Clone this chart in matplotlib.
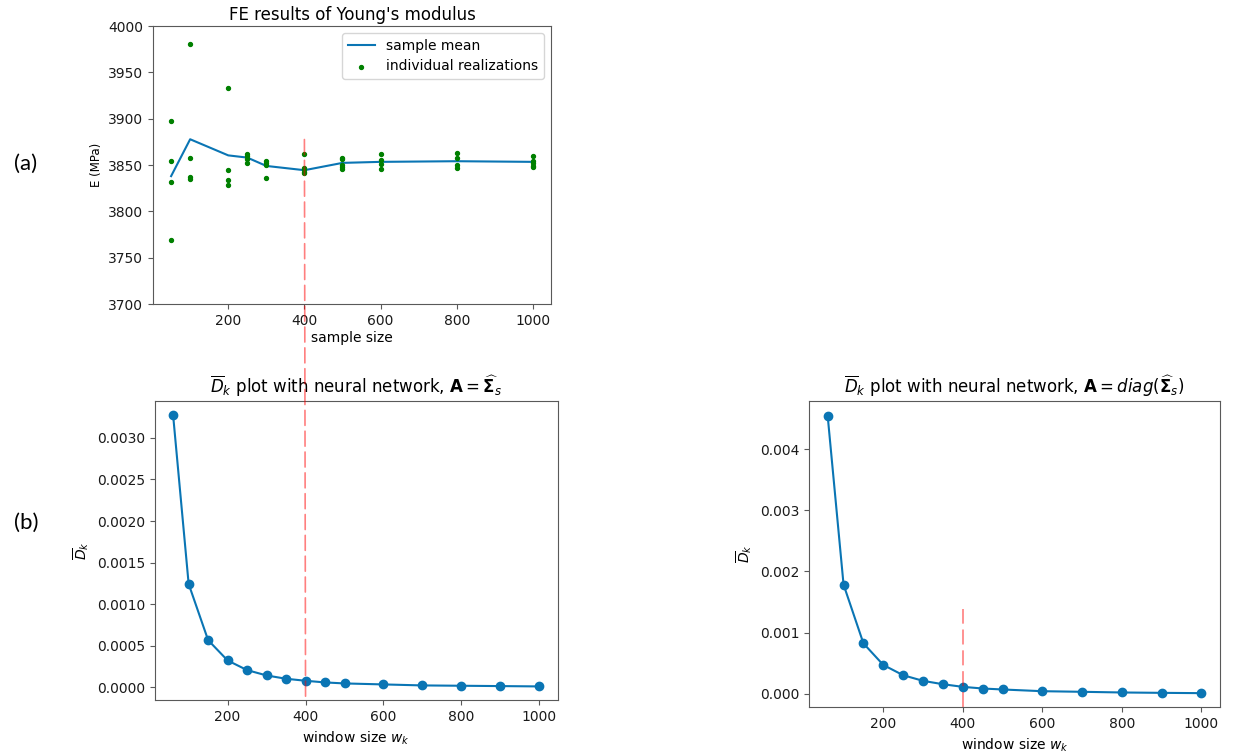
import matplotlib
matplotlib.use("Agg")
import matplotlib.pyplot as plt
from matplotlib.patches import ConnectionPatch

# (a) FE results
sample_sizes = [50, 100, 200, 250, 300, 400, 500, 600, 800, 1000]
sample_mean = [3838, 3877.8, 3860.4, 3858, 3849, 3844.4, 3852.3, 3853.4, 3854.1, 3853.4]
realizations = {
    50: [3897, 3854.5, 3832, 3769],
    100: [3980.6, 3858, 3837.5, 3835],
    200: [3933.5, 3844.8, 3833.3, 3828.6],
    250: [3861.7, 3859.9, 3856.3, 3852],
    300: [3854, 3852.7, 3850.5, 3836.5],
    400: [3862, 3847.3, 3846, 3842, 3841],
    500: [3858, 3856.6, 3850, 3848, 3846],
    600: [3861.7, 3855.2, 3851, 3846],
    800: [3863, 3858, 3849.5, 3847.3],
    1000: [3860, 3854, 3852, 3849, 3848],
}
dashed_top = 3877.5

# (b) D_k curves
window_sizes = [60, 100, 150, 200, 250, 300, 350, 400, 450, 500, 600, 700, 800, 900, 1000]
dk_full = [0.00328, 0.001244, 0.000568, 0.000324, 0.000208, 0.000144, 0.000104, 0.00008,
           0.00006, 0.000048, 0.000036, 0.000024, 0.00002, 0.000016, 0.000012]
dk_diag = [0.004548, 0.001786, 0.000825, 0.000472, 0.000304, 0.000212, 0.000157, 0.000114,
           0.000087, 0.000071, 0.000043, 0.000033, 0.000022, 0.000016, 0.000011]
dashed_right_top = 0.001384
w_mark = 400

blue = "#0a75b4"
red_kw = dict(color="red", alpha=0.5, lw=1.2, linestyle=(0, (9, 3.5)))

fig = plt.figure(figsize=(12.33, 7.54), dpi=100)
ax_a = fig.add_axes([0.1241, 0.5968, 0.3228, 0.3687])
ax_b1 = fig.add_axes([0.1255, 0.0716, 0.3268, 0.3966])
ax_b2 = fig.add_axes([0.6561, 0.0623, 0.3333, 0.4058])

for ax in (ax_a, ax_b1, ax_b2):
    for sp in ax.spines.values():
        sp.set_color("0.35")
    ax.tick_params(colors="0.35", labelcolor="0.1", labelsize=10)

# top panel
ax_a.plot(sample_sizes, sample_mean, color=blue, lw=1.5, label="sample mean")
xs = [x for x, vals in realizations.items() for _ in vals]
ys = [v for vals in realizations.values() for v in vals]
ax_a.scatter(xs, ys, s=8, color="green", label="individual realizations", zorder=3)
ax_a.set_ylim(3700, 4000)
ax_a.set_title("FE results of Young's modulus", fontsize=12, pad=4)
ax_a.set_xlabel("sample size", fontsize=10, labelpad=2)
ax_a.set_ylabel("E (MPa)", fontsize=8.5)
ax_a.legend(loc="upper right", fontsize=10)

# bottom left
ax_b1.plot(window_sizes, dk_full, "o-", color=blue, ms=6, lw=1.5)
ax_b1.set_title(r"$\overline{D}_k$ plot with neural network, $\mathbf{A} = \widehat{\mathbf{\Sigma}}_s$",
                fontsize=12, pad=6)
ax_b1.set_xlabel(r"window size $w_k$", fontsize=10)
ax_b1.set_ylabel(r"$\overline{D}_k$", fontsize=10)

# bottom right
ax_b2.plot(window_sizes, dk_diag, "o-", color=blue, ms=6, lw=1.5)
ax_b2.set_title(r"$\overline{D}_k$ plot with neural network, $\mathbf{A} = diag(\widehat{\mathbf{\Sigma}}_s)$",
                fontsize=12, pad=6)
ax_b2.set_xlabel(r"window size $w_k$", fontsize=10)
ax_b2.set_ylabel(r"$\overline{D}_k$", fontsize=10)
y0 = ax_b2.get_ylim()[0]
ax_b2.vlines(w_mark, y0, dashed_right_top, **red_kw)
ax_b2.set_ylim(bottom=y0)

# dashed line crossing from panel (a) into the first (b) panel
y_bottom = ax_b1.get_ylim()[0]
con = ConnectionPatch(xyA=(w_mark, dashed_top), coordsA=ax_a.transData,
                      xyB=(w_mark, y_bottom), coordsB=ax_b1.transData, **red_kw)
fig.add_artist(con)

fig.text(0.021, 0.783, "(a)", fontsize=16, family="Lato", va="center", ha="center")
fig.text(0.021, 0.307, "(b)", fontsize=16, family="Lato", va="center", ha="center")

fig.savefig("out.png", dpi=100)
